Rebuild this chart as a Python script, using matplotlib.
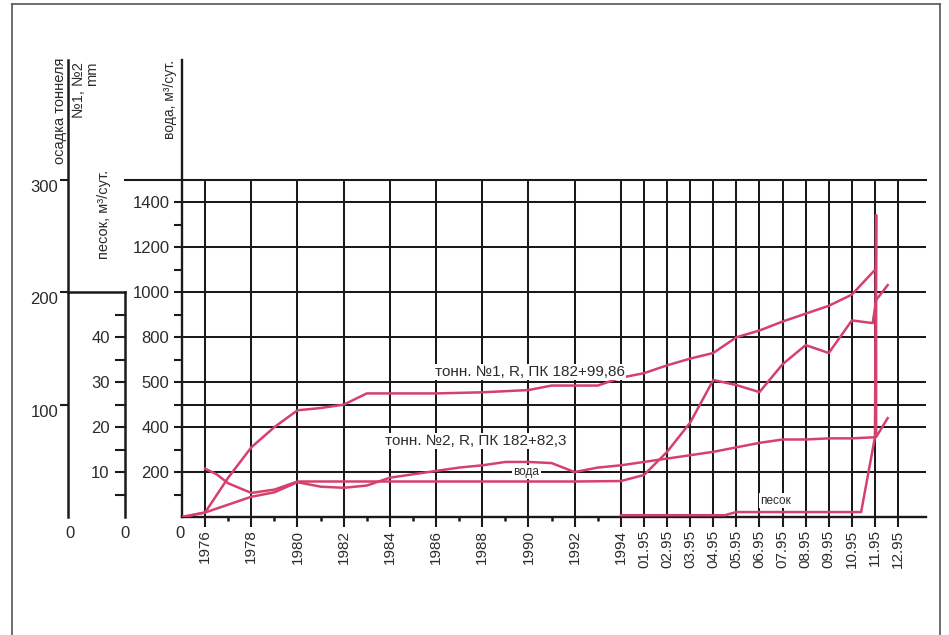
import matplotlib
matplotlib.use("Agg")
import matplotlib.pyplot as plt
from matplotlib.lines import Line2D
from matplotlib import transforms

plt.rcParams["font.family"] = ["Liberation Sans", "DejaVu Sans"]

W, H = 949, 635
INK = "#1a1a1a"
TXT = "#2b2b2b"
PINK = "#d6406d"

# x axis: one unit per year (1976 = 0) up to 1994, then one unit per month of 1995
year_labels = ["1976", "1978", "1980", "1982", "1984", "1986", "1988", "1990", "1992", "1994"]
year_pos = [0, 2, 4, 6, 8, 10, 12, 14, 16, 18]
odd_year_pos = [1, 3, 5, 7, 9, 11, 13, 15, 17]
month_labels = ["01.95", "02.95", "03.95", "04.95", "05.95", "06.95",
                "07.95", "08.95", "09.95", "10.95", "11.95", "12.95"]
month_pos = [19, 20, 21, 22, 23, 24, 25, 26, 27, 28, 29, 30]

# water inflow, m3/day (main left axis)
water_x = [0, 0.5, 1, 2, 3, 4, 6, 8, 10, 12, 14, 16, 18,
           19, 20, 21, 22, 23, 24, 25, 26, 27, 28, 28.9, 29.05, 29.55]
water_y = [215, 190, 150, 107, 122, 158, 158, 158, 158, 158, 158, 158, 160,
           187, 290, 420, 610, 587, 556, 680, 765, 730, 875, 863, 966, 1032]

# settlement of tunnel No.1, mm
t1_x = [-1, 0, 1, 2, 3, 4, 5, 6, 7, 8, 10, 12, 14, 15, 16, 17, 18,
        19, 20, 21, 22, 23, 24, 25, 26, 27, 28, 29]
t1_y = [0, 4, 35, 62, 80, 95, 97, 100, 110, 110, 110, 111, 113, 117, 117, 117, 124,
        128, 135, 141, 146, 160, 166, 174, 181, 188, 198, 220]

# settlement of tunnel No.2, mm
t2_x = [-1, 0, 1, 2, 3, 4, 5, 6, 7, 8, 9, 10, 11, 12, 13, 14, 15, 16, 17, 18,
        19, 20, 21, 22, 23, 24, 25, 26, 27, 28, 29]
t2_y = [0, 4, 11, 18, 22, 31, 27, 26, 28, 35, 38, 41, 44, 46, 49, 49, 48, 40, 44, 46,
        49, 52, 55, 58, 62, 66, 69, 69, 70, 70, 71]

# sand inflow, m3/day
sand_x = [18, 22.5, 23, 28.4, 29.0, 29.05, 29.05, 29.55]
sand_y = [0.4, 0.4, 1.1, 1.1, 17.8, 67.2, 17.8, 22]

water_ticks = [200, 400, 600, 800, 1000, 1200, 1400]
water_tick_labels = ["200", "400", "500", "800", "1000", "1200", "1400"]
water_minor = [100, 300, 500, 700, 900, 1100, 1300]
water_grid = [200, 400, 500, 600, 800, 1000, 1200, 1400]
water_top = 1500
sand_ticks = [10, 20, 30, 40]
sand_minor = [5, 15, 25, 35, 45]
sand_top = 50
settle_ticks = [100, 200, 300]

# scales: water units per axes height, sand = water / 20, settlement = water / 5
WATER_MAX = 2034
SAND_MAX = WATER_MAX / 20
SETTLE_MAX = WATER_MAX / 5
XMIN, XMAX = -1, 31.2


def fx(px):
    return px / W


def fy(py):
    return 1 - py / H


fig = plt.figure(figsize=(W / 100, H / 100), dpi=100)
fig.patch.set_facecolor("white")

bottom = fy(517)
height = (517 - 60) / H
ax = fig.add_axes([fx(182), bottom, fx(925.8) - fx(182), height])
ax.set_xlim(XMIN, XMAX)
ax.set_ylim(0, WATER_MAX)
ax.patch.set_alpha(0)
for side in ("top", "right"):
    ax.spines[side].set_visible(False)
for side in ("left", "bottom"):
    ax.spines[side].set_color(INK)
    ax.spines[side].set_linewidth(1.7)

# grid
ax.hlines(water_grid, XMIN, XMAX, color=INK, lw=1.45, zorder=1)
ax.vlines(year_pos + month_pos, 0, water_top, color=INK, lw=1.45, zorder=1)
top_tr = transforms.blended_transform_factory(fig.transFigure, ax.transData)
ax.plot([fx(125), fx(925.8)], [water_top, water_top], color=INK, lw=1.5,
        transform=top_tr, clip_on=False)

ax.set_xticks(year_pos + month_pos, labels=year_labels + month_labels)
ax.set_xticks(odd_year_pos, minor=True)
ax.tick_params(axis="x", which="major", direction="out", length=7, width=1.5,
               color=INK, pad=2, labelsize=11, labelcolor=TXT, labelrotation=90)
ax.tick_params(axis="x", which="minor", direction="out", length=3, width=1.8, color=INK)

ax.set_yticks(water_ticks, labels=water_tick_labels)
ax.set_yticks(water_minor, minor=True)
ax.tick_params(axis="y", which="both", direction="out", length=6, width=1.5,
               color=INK, pad=3, labelsize=12, labelcolor=TXT)

# curves
line_kw = dict(color=PINK, lw=1.8, solid_joinstyle="round", zorder=3)
ax.plot(water_x, water_y, **line_kw)
ax.plot(t1_x, [v * 5 for v in t1_y], **line_kw)
ax.plot(t2_x, [v * 5 for v in t2_y], **line_kw)
ax.plot(sand_x, [v * 20 for v in sand_y], **line_kw)

box = dict(facecolor="white", edgecolor="none", pad=1)
ax.text(14.07, 645, "тонн. №1, R, ПК 182+99,86", fontsize=11, color=TXT,
        ha="center", va="center", bbox=box, zorder=4)
ax.text(11.73, 338, "тонн. №2, R, ПК 182+82,3", fontsize=11, color=TXT,
        ha="center", va="center", bbox=box, zorder=4)
ax.text(13.9, 200, "вода", fontsize=8.5, color=TXT, ha="center", va="center",
        bbox=box, zorder=4)
ax.text(24.7, 72, "песок", fontsize=8.5, color=TXT, ha="center", va="center",
        bbox=box, zorder=4)

# sand axis
ax_s = fig.add_axes([fx(125), bottom, 1e-4, height])
ax_s.set_ylim(0, SAND_MAX)
ax_s.set_xticks([])
ax_s.patch.set_alpha(0)
for side in ("top", "right", "bottom"):
    ax_s.spines[side].set_visible(False)
ax_s.spines["left"].set_bounds(0, sand_top)
ax_s.spines["left"].set_color(INK)
ax_s.spines["left"].set_linewidth(1.8)
ax_s.set_yticks(sand_ticks, labels=[str(v) for v in sand_ticks])
ax_s.set_yticks(sand_minor, minor=True)
ax_s.tick_params(axis="y", which="both", direction="out", length=7, width=1.5,
                 color=INK, pad=4, labelsize=12, labelcolor=TXT)

# settlement axis
ax_o = fig.add_axes([fx(68), bottom, 1e-4, height])
ax_o.set_ylim(0, SETTLE_MAX)
ax_o.set_xticks([])
ax_o.patch.set_alpha(0)
for side in ("top", "right", "bottom"):
    ax_o.spines[side].set_visible(False)
ax_o.spines["left"].set_color(INK)
ax_o.spines["left"].set_linewidth(1.8)
ax_o.set_yticks(settle_ticks, labels=[str(v) for v in settle_ticks])
ax_o.tick_params(axis="y", direction="out", length=6, width=1.5, color=INK,
                 pad=1, labelsize=12, labelcolor=TXT)
for lbl in ax_o.get_yticklabels():
    lbl.set_verticalalignment("top")
link_tr = transforms.blended_transform_factory(fig.transFigure, ax_o.transData)
ax_o.plot([fx(68), fx(125)], [200, 200], color=INK, lw=1.8,
          transform=link_tr, clip_on=False)

# zero labels under the three axes
for px in (70, 125, 180):
    fig.text(fx(px), fy(533), "0", fontsize=12, color=TXT, ha="center", va="center")

# axis titles
fig.text(fx(170), fy(60), "вода, м³/сут.", rotation=90, rotation_mode="anchor",
         ha="right", va="center", fontsize=10, color=TXT)
fig.text(fx(104), fy(170), "песок, м³/сут.", rotation=90, rotation_mode="anchor",
         ha="right", va="center", fontsize=10.5, color=TXT)
fig.text(fx(60), fy(58), "осадка тоннеля", rotation=90, rotation_mode="anchor",
         ha="right", va="center", fontsize=10.5, color=TXT)
fig.text(fx(79), fy(62), "№1, №2", rotation=90, rotation_mode="anchor",
         ha="right", va="center", fontsize=10.5, color=TXT)
fig.text(fx(92), fy(62), "mm", rotation=90, rotation_mode="anchor",
         ha="right", va="center", fontsize=10.5, color=TXT)

# page frame
frame = dict(color="#555555", lw=1.2, transform=fig.transFigure)
fig.add_artist(Line2D([fx(12), fx(12)], [fy(4), 0], **frame))
fig.add_artist(Line2D([fx(12), fx(940)], [fy(4), fy(4)], **frame))
fig.add_artist(Line2D([fx(940), fx(940)], [fy(4), 0], **frame))

fig.savefig("out.png", dpi=100, facecolor="white")
